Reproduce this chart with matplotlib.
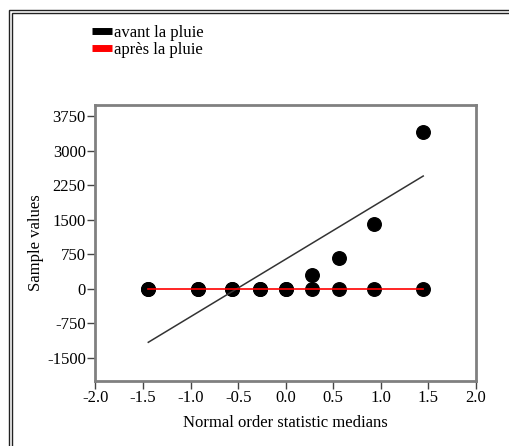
import numpy as np
import matplotlib.pyplot as plt
from matplotlib.lines import Line2D
from matplotlib.patches import Rectangle

plt.rcParams['font.family'] = ['Liberation Serif', 'DejaVu Serif']

# normal order statistic medians (n = 9)
osm = [-1.445, -0.924, -0.565, -0.274, 0.0, 0.274, 0.565, 0.924, 1.445]
avant = [0, 0, 0, 0, 0, 300, 665, 1410, 3420]
apres = [0, 0, 0, 0, 0, 0, 0, 0, 0]

# reference lines (intercept, slope)
fit_avant = (645, 1252)
fit_apres = (0, 0)

series_names = ["avant la pluie", "après la pluie"]
series_colors = ["black", "red"]

xticks = [-2.0, -1.5, -1.0, -0.5, 0.0, 0.5, 1.0, 1.5, 2.0]
yticks = [-1500, -750, 0, 750, 1500, 2250, 3000, 3750]

fig = plt.figure(figsize=(5.10, 4.46), dpi=100)
fig.patch.set_facecolor('white')

# outer double frame
fig.patches.append(Rectangle((9 / 510, -0.1), 1.1, 1 - 10 / 446 + 0.1, transform=fig.transFigure,
                             fill=False, edgecolor='#222222', lw=1.0))
fig.patches.append(Rectangle((12 / 510, -0.1), 1.1, 1 - 13 / 446 + 0.1, transform=fig.transFigure,
                             fill=False, edgecolor='#222222', lw=1.0))

ax = fig.add_axes([95.5 / 510, 1 - 380.7 / 446, 380.5 / 510, 275.7 / 446])

x = np.array(osm)
ax.scatter(x, apres, s=95, color='black', zorder=2)
ax.scatter(x, avant, s=95, color='black', zorder=2)

xl = np.array([osm[0], osm[-1]])
ax.plot(xl, fit_avant[0] + fit_avant[1] * xl, color='#333333', lw=1.1, zorder=3)
ax.plot(xl, fit_apres[0] + fit_apres[1] * xl, color='red', lw=1.2, zorder=3)

ax.set_xlim(-2.0, 2.0)
ax.set_ylim(-2000, 4000)
ax.set_xticks(xticks)
ax.set_xticklabels([f"{t:.1f}" for t in xticks])
ax.set_yticks(yticks)
ax.set_yticklabels([str(t) for t in yticks])

for s in ax.spines.values():
    s.set_color('#808080')
    s.set_linewidth(2)

ax.tick_params(axis='both', direction='out', length=6, width=1, color='#444444',
               labelsize=12, pad=1)
ax.set_xlabel("Normal order statistic medians", fontsize=12, labelpad=6)
ax.set_ylabel("Sample values", fontsize=12, labelpad=2)

handles = [Line2D([], [], color=c, lw=5, solid_capstyle='butt') for c in series_colors]
fig.legend(handles, series_names, loc='upper left', bbox_to_anchor=(92 / 510, 1 - 25 / 446),
           frameon=False, fontsize=12, handlelength=1.2, handletextpad=0.15,
           labelspacing=0.08, borderpad=0, borderaxespad=0)

fig.savefig('out.png', dpi=100)
